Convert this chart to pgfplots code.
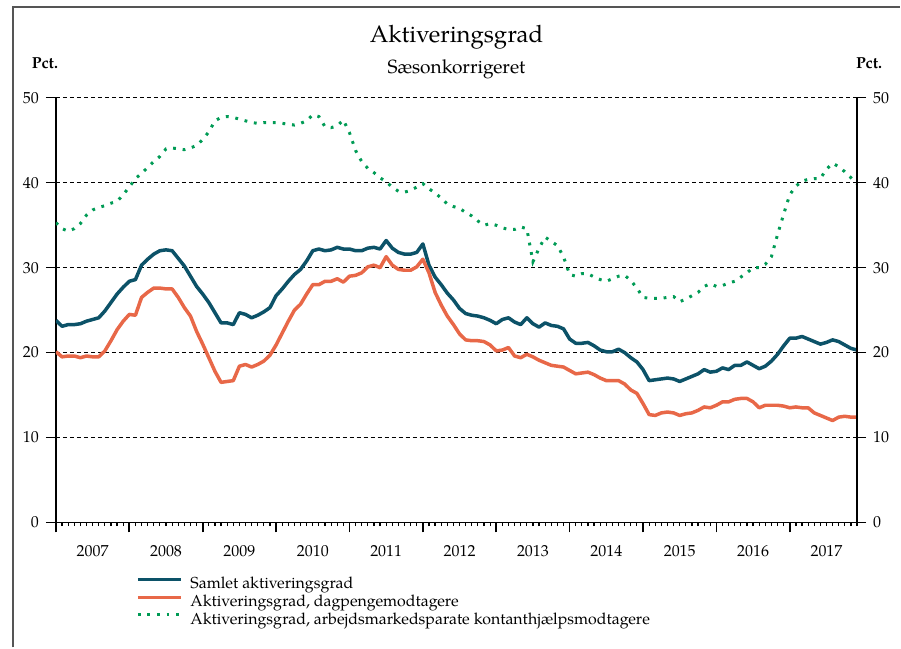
\documentclass[border=0pt]{standalone}
\usepackage{pgfplots}
\pgfplotsset{compat=1.18}
\usepackage{pgfplotstable}
\usepackage{fontspec}
\setmainfont{TeX Gyre Pagella}

\definecolor{samlet}{RGB}{12,82,104}
\definecolor{dagpenge}{RGB}{232,104,72}
\definecolor{kontant}{RGB}{0,155,85}
\definecolor{ramme}{RGB}{85,85,85}

% m = months since Jan 2007, b = samlet, r = dagpenge, g = kontanthjaelp
\pgfplotstableread{
m b r g
0 23.8 20.1 35.3
1 23.1 19.5 34.6
2 23.3 19.6 34.3
3 23.3 19.6 34.6
4 23.4 19.4 35.2
5 23.7 19.6 36.2
6 23.9 19.5 36.8
7 24.1 19.5 37.1
8 24.9 20.2 37.3
9 25.9 21.4 37.6
10 26.9 22.7 37.8
11 27.7 23.7 38.6
12 28.4 24.5 39.5
13 28.6 24.4 40.5
14 30.3 26.5 41.1
15 31.0 27.1 41.8
16 31.6 27.6 42.5
17 32.0 27.6 43.1
18 32.1 27.5 44.0
19 32.0 27.5 44.1
20 31.1 26.5 44.0
21 30.2 25.3 43.9
22 29.0 24.3 44.1
23 27.8 22.5 44.4
24 26.9 21.0 45.1
25 25.9 19.4 46.0
26 24.7 17.8 47.3
27 23.5 16.5 47.7
28 23.5 16.6 47.8
29 23.3 16.7 47.7
30 24.7 18.4 47.5
31 24.5 18.6 47.3
32 24.1 18.3 47.1
33 24.4 18.6 47.0
34 24.8 19.0 47.1
35 25.3 19.7 47.1
36 26.7 20.9 47.1
37 27.5 22.3 47.0
38 28.4 23.7 46.9
39 29.2 25.0 46.8
40 29.8 25.7 47.0
41 30.8 26.9 47.3
42 32.0 28.0 48.0
43 32.2 28.0 47.8
44 32.0 28.4 46.6
45 32.1 28.4 46.5
46 32.4 28.7 46.7
47 32.2 28.3 47.4
48 32.2 29.0 45.9
49 32.0 29.1 43.8
50 32.0 29.4 42.5
51 32.3 30.1 41.7
52 32.4 30.3 41.2
53 32.2 30.0 40.6
54 33.2 31.3 40.1
55 32.3 30.3 39.5
56 31.8 29.8 39.0
57 31.6 29.7 38.9
58 31.6 29.7 39.1
59 31.8 30.1 39.5
60 32.8 31.0 39.9
61 30.3 29.4 39.3
62 28.9 27.1 38.8
63 28.0 25.6 38.2
64 27.0 24.3 37.5
65 26.2 23.3 37.2
66 25.2 22.2 37.0
67 24.6 21.5 36.5
68 24.4 21.4 36.1
69 24.3 21.4 35.5
70 24.1 21.3 35.0
71 23.8 20.9 35.2
72 23.4 20.2 35.0
73 23.9 20.3 34.7
74 24.1 20.6 34.5
75 23.6 19.6 34.5
76 23.3 19.4 34.8
77 24.1 19.8 34.6
78 23.4 19.5 30.7
79 23.0 19.1 32.3
80 23.5 18.8 33.6
81 23.2 18.5 33.1
82 23.1 18.4 32.6
83 22.8 18.3 31.3
84 21.6 17.9 29.2
85 21.1 17.5 29.0
86 21.1 17.6 29.3
87 21.2 17.7 29.3
88 20.8 17.4 28.9
89 20.3 17.0 28.6
90 20.1 16.7 28.4
91 20.1 16.7 28.7
92 20.4 16.7 29.0
93 20.0 16.3 29.1
94 19.4 15.6 28.5
95 18.9 15.2 27.6
96 18.0 14.0 26.5
97 16.7 12.7 26.4
98 16.8 12.6 26.4
99 16.9 12.9 26.4
100 17.0 13.0 26.5
101 16.9 12.9 26.6
102 16.6 12.6 26.0
103 16.9 12.8 26.3
104 17.2 12.9 26.7
105 17.5 13.2 27.1
106 18.0 13.6 27.8
107 17.7 13.5 28.1
108 17.8 13.8 27.8
109 18.2 14.2 27.9
110 18.0 14.2 28.2
111 18.5 14.5 28.4
112 18.5 14.6 28.9
113 18.9 14.6 29.4
114 18.5 14.2 30.0
115 18.1 13.5 30.0
116 18.4 13.8 30.4
117 19.0 13.8 31.3
118 19.8 13.8 33.9
119 20.8 13.7 36.3
120 21.7 13.5 38.6
121 21.7 13.6 39.6
122 21.9 13.5 40.2
123 21.6 13.5 40.4
124 21.3 12.9 40.5
125 21.0 12.6 40.5
126 21.2 12.3 41.6
127 21.5 12.0 42.3
128 21.3 12.4 41.9
129 20.9 12.5 41.3
130 20.5 12.4 40.6
131 20.3 12.4 39.9
}\data

\begin{document}
\begin{tikzpicture}
\path (-28bp,-62.5bp) rectangle (422.5bp,261.5bp);
\draw[ramme, line width=1bp] (-21.5bp,-62.5bp) -- (-21.5bp,257.75bp) -- (422.5bp,257.75bp);

\node[font=\fontsize{12}{14}\selectfont] at (200.5bp,243bp) {Aktiveringsgrad};
\node[font=\fontsize{9.6}{11}\selectfont] at (200.5bp,227bp) {Sæsonkorrigeret};
\node[font=\fontsize{8}{9}\selectfont\bfseries] at (-5.5bp,230bp) {Pct.};
\node[font=\fontsize{8}{9}\selectfont\bfseries] at (407bp,230bp) {Pct.};

\begin{axis}[
  at={(0,0)}, anchor=south west,
  scale only axis,
  width=401bp, height=212.5bp,
  xmin=0, xmax=131,
  ymin=0, ymax=50,
  axis x line*=bottom,
  axis y line*=left,
  axis line style={line width=0.8bp},
  tick align=outside,
  tick style={black, line width=0.6bp},
  major tick length=5bp,
  minor tick length=1.8bp,
  xtick={0,12,...,120},
  minor xtick={1,2,3,4,5,6,7,8,9,10,11,13,14,15,16,17,18,19,20,21,22,23,
    25,26,27,28,29,30,31,32,33,34,35,37,38,39,40,41,42,43,44,45,46,47,
    49,50,51,52,53,54,55,56,57,58,59,61,62,63,64,65,66,67,68,69,70,71,
    73,74,75,76,77,78,79,80,81,82,83,85,86,87,88,89,90,91,92,93,94,95,
    97,98,99,100,101,102,103,104,105,106,107,109,110,111,112,113,114,115,116,117,118,119,
    121,122,123,124,125,126,127,128,129,130,131},
  major x tick style={black, line width=0.85bp},
  xticklabels={2007,2008,2009,2010,2011,2012,2013,2014,2015,2016,2017},
  xticklabel style={xshift=18.37bp, yshift=-3bp},
  ytick={0,10,...,50},
  ymajorgrids=true,
  grid style={black, line width=0.5bp, dash pattern=on 2bp off 1.5bp},
  /pgf/number format/assume math mode=true,
  tick label style={font=\fontsize{8}{9}\selectfont},
  legend cell align=left,
  legend image code/.code={\draw[#1] (0bp,2.5bp) -- (21.5bp,2.5bp);},
  legend style={at={(axis description cs:0.092,-0.117)}, anchor=north west,
    draw=none, fill=none, font=\fontsize{8}{9}\selectfont,
    nodes={inner sep=0pt, text height=6.2bp, text depth=2bp},
    row sep=0.6bp,
    /tikz/every odd column/.append style={column sep=4bp}},
]
\addplot[samlet, line width=1.75bp, line join=round] table[x=m, y=b] {\data};
\addlegendentry{Samlet aktiveringsgrad}
\addplot[dagpenge, line width=1.75bp, line join=round] table[x=m, y=r] {\data};
\addlegendentry{Aktiveringsgrad, dagpengemodtagere}
\addplot[kontant, line width=1.5bp, dash pattern=on 1.4bp off 3.4bp] table[x=m, y=g] {\data};
\addlegendentry{Aktiveringsgrad, arbejdsmarkedsparate kontanthjælpsmodtagere}
\end{axis}

% right-hand scale and the year ticks
\begin{axis}[
  at={(0,0)}, anchor=south west,
  scale only axis,
  width=401bp, height=212.5bp,
  xmin=0, xmax=131,
  ymin=0, ymax=50,
  axis x line*=bottom,
  axis y line*=right,
  axis line style={line width=0.8bp},
  tick align=outside,
  tick style={black, line width=0.6bp},
  major tick length=4.5bp,
  minor tick length=5bp,
  xtick=\empty,
  minor xtick={0,12,...,120},
  minor x tick style={black, line width=0.8bp},
  ytick={0,10,...,50},
  /pgf/number format/assume math mode=true,
  tick label style={font=\fontsize{8}{9}\selectfont},
]
\end{axis}
\end{tikzpicture}
\end{document}
